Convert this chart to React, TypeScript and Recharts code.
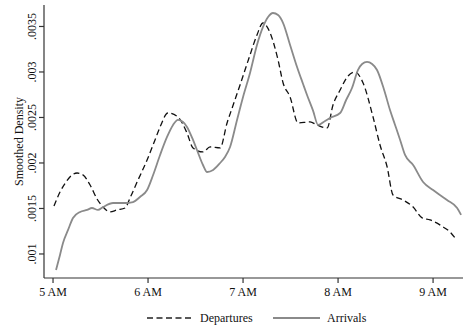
import { LineChart, Line, XAxis, YAxis, Legend, Label } from 'recharts';

// minutes after 5 AM
const depMinutes = [0.6, 4.4, 8.2, 12, 15.2, 19, 23.4, 27.8, 31.6, 36, 40.4, 45.5, 48.6, 53.1, 59.4, 64.4, 67.6, 72.6, 78.9, 84.6, 88.4, 94.7, 99.2, 105.5, 109.9, 113.1, 118.1, 124.4, 128.8, 132.6, 137.1, 142.1, 145.3, 149.7, 154.7, 162.3, 166.7, 173.1, 176.8, 181.3, 186.3, 190.7, 195.8, 202.1, 206.5, 211, 214.7, 221.1, 227.4, 233.1, 238.1, 246.3, 250.7, 253.9];
const depDensity = [0.001527, 0.001681, 0.001791, 0.001868, 0.00189, 0.001868, 0.001758, 0.001604, 0.001516, 0.001462, 0.001484, 0.001505, 0.001615, 0.001791, 0.002033, 0.002253, 0.002396, 0.002549, 0.002505, 0.00233, 0.002165, 0.002121, 0.002176, 0.002165, 0.00244, 0.002604, 0.002857, 0.003187, 0.003407, 0.003538, 0.003429, 0.003132, 0.002879, 0.002725, 0.00244, 0.002451, 0.002418, 0.002385, 0.002637, 0.002802, 0.002956, 0.003, 0.002879, 0.002505, 0.002198, 0.001956, 0.001648, 0.001593, 0.001516, 0.001396, 0.001374, 0.001297, 0.001242, 0.001176];

const arrMinutes = [1.9, 4.4, 6.3, 9.5, 12.6, 17.1, 21.5, 24.6, 28.4, 31.6, 37.9, 45.5, 50.5, 54.9, 59.4, 63.2, 67.6, 72, 75.8, 78.9, 82.1, 84.6, 88.4, 90.9, 94.7, 97.3, 101.1, 105.5, 108.6, 111.8, 116.2, 120, 124.4, 128.8, 132.6, 135.8, 138.9, 142.1, 145.3, 149.7, 154.1, 157.9, 160.4, 164.2, 167.4, 171.8, 174.9, 181.3, 185.1, 188.8, 192.6, 195.2, 198.3, 201.5, 204.6, 209.1, 212.8, 216, 219.2, 222.3, 227.4, 233.7, 240, 248.8, 255.2, 257.7];
const arrDensity = [0.000824, 0.000989, 0.001121, 0.001264, 0.001396, 0.001462, 0.001484, 0.001505, 0.001484, 0.001516, 0.00156, 0.00156, 0.001571, 0.001626, 0.001703, 0.001868, 0.002088, 0.002286, 0.002418, 0.002473, 0.002451, 0.002396, 0.002253, 0.002143, 0.001978, 0.001901, 0.001923, 0.002, 0.002066, 0.002176, 0.002473, 0.002725, 0.002989, 0.003297, 0.003495, 0.003604, 0.003648, 0.003626, 0.003538, 0.003297, 0.003055, 0.002868, 0.002747, 0.002575, 0.002418, 0.002462, 0.002495, 0.002549, 0.002692, 0.002824, 0.003022, 0.003088, 0.00311, 0.003088, 0.003022, 0.002802, 0.002582, 0.002418, 0.002253, 0.002088, 0.001978, 0.001791, 0.001703, 0.001593, 0.001505, 0.001429];

const hourTicks = [0, 60, 120, 180, 240];
const hourLabels = ['5 AM', '6 AM', '7 AM', '8 AM', '9 AM'];
const densityTicks = [0.001, 0.0015, 0.002, 0.0025, 0.003, 0.0035];

const departures = depMinutes.map((t, i) => ({ t, v: depDensity[i] }));
const arrivals = arrMinutes.map((t, i) => ({ t, v: arrDensity[i] }));

const FONT = '"Liberation Serif", "Times New Roman", serif';
const DASH = '6 3.5';
const GRAY = '#8a8a8a';

const XTick = ({ x, y, payload }: any) => (
  <text x={x} y={y + 11} textAnchor="middle" fontFamily={FONT} fontSize={12} fill="#111">
    {hourLabels[hourTicks.indexOf(payload.value)]}
  </text>
);

const YTick = ({ x, y, payload }: any) => (
  <text
    x={x - 1}
    y={y}
    transform={`rotate(-90 ${x - 1} ${y})`}
    textAnchor="middle"
    fontFamily={FONT}
    fontSize={12}
    fill="#111"
  >
    {String(payload.value).replace(/^0/, '')}
  </text>
);

const YTitle = ({ viewBox }: any) => {
  const cx = viewBox.x + 23;
  const cy = viewBox.y + viewBox.height / 2;
  return (
    <text x={cx} y={cy} transform={`rotate(-90 ${cx} ${cy})`} textAnchor="middle" fontFamily={FONT} fontSize={12} fill="#111">
      Smoothed Density
    </text>
  );
};

const LegendBox = () => (
  <svg width={463} height={24} style={{ display: 'block' }}>
    <line x1={147} x2={192} y1={15} y2={15} stroke="#222" strokeWidth={1.3} strokeDasharray={DASH} />
    <text x={200} y={19} fontFamily={FONT} fontSize={12} fill="#111">Departures</text>
    <line x1={273} x2={320} y1={15} y2={15} stroke={GRAY} strokeWidth={1.8} />
    <text x={327} y={19} fontFamily={FONT} fontSize={12} fill="#111">Arrivals</text>
  </svg>
);

export default function App() {
  return (
    <div style={{ position: 'absolute', left: 0, top: 0, background: '#fff', fontFamily: FONT }}>
      <LineChart width={463} height={327} margin={{ top: 5, right: 0, bottom: 0, left: 0 }}>
        <XAxis
          type="number"
          dataKey="t"
          domain={[-5.7, 258.9]}
          allowDataOverflow
          ticks={hourTicks}
          tick={<XTick />}
          tickSize={5}
          tickMargin={2}
          height={25}
          stroke="#333"
          strokeWidth={1.2}
        />
        <YAxis
          type="number"
          dataKey="v"
          domain={[0.000736, 0.003736]}
          allowDataOverflow
          ticks={densityTicks}
          tick={<YTick />}
          tickSize={5}
          tickMargin={2}
          width={44}
          stroke="#333"
          strokeWidth={1.2}
        >
          <Label content={<YTitle />} />
        </YAxis>
        <Legend verticalAlign="bottom" height={24} content={<LegendBox />} wrapperStyle={{ left: 0, width: 463 }} />
        <Line
          data={departures}
          dataKey="v"
          type="monotone"
          stroke="#111"
          strokeWidth={1.3}
          strokeDasharray={DASH}
          dot={false}
          isAnimationActive={false}
        />
        <Line
          data={arrivals}
          dataKey="v"
          type="monotone"
          stroke={GRAY}
          strokeWidth={1.8}
          dot={false}
          isAnimationActive={false}
        />
      </LineChart>
    </div>
  );
}
